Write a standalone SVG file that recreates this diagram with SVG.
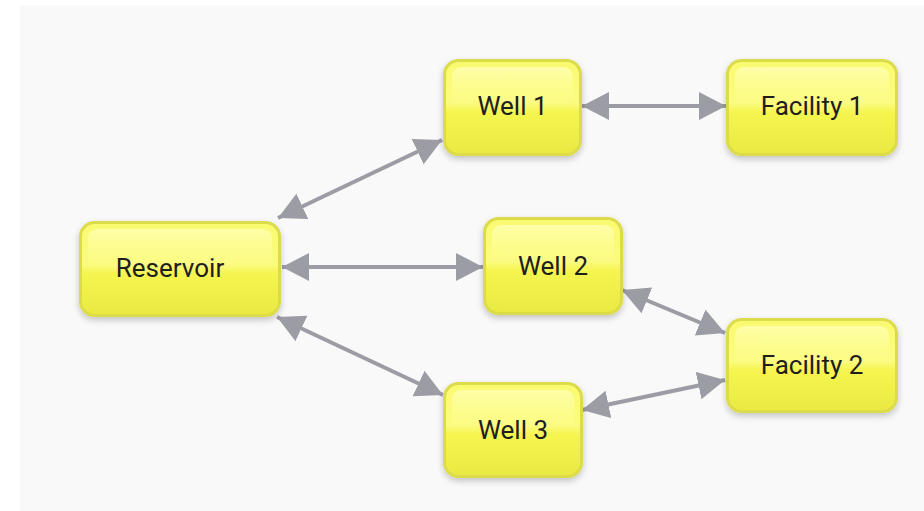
<svg xmlns="http://www.w3.org/2000/svg" width="924" height="511" viewBox="0 0 924 511">
  <defs>
    <linearGradient id="fill" x1="0" y1="0" x2="0" y2="1">
      <stop offset="0" stop-color="#fafa70"/>
      <stop offset="0.45" stop-color="#fbfb80"/>
      <stop offset="0.55" stop-color="#f5f550"/>
      <stop offset="1" stop-color="#e9e942"/>
    </linearGradient>
    <linearGradient id="gloss" x1="0" y1="0" x2="0" y2="1">
      <stop offset="0" stop-color="#ffffb0" stop-opacity="0.9"/>
      <stop offset="1" stop-color="#ffffa0" stop-opacity="0"/>
    </linearGradient>
    <filter id="shadow" x="-20%" y="-20%" width="140%" height="150%">
      <feDropShadow dx="0" dy="3" stdDeviation="3" flood-color="#000" flood-opacity="0.22"/>
    </filter>
    <marker id="arr" markerUnits="userSpaceOnUse" markerWidth="30" markerHeight="30" refX="27" refY="14" orient="auto-start-reverse" viewBox="0 0 30 30">
      <path d="M0,0 L27,14 L0,28 z" fill="#9c9ca4"/>
    </marker>
    <style>
      .node rect.box { fill: url(#fill); stroke: #dcdc4c; stroke-width: 3; filter: url(#shadow); }
      .node rect.hl { fill: url(#gloss); }
      .node text { font-family: Roboto, "Liberation Sans", sans-serif; font-size: 26px; fill: #1e1e1e; text-anchor: middle; dominant-baseline: central; }
      .edge { stroke: #9c9ca4; stroke-width: 4; fill: none; marker-start: url(#arr); marker-end: url(#arr); }
    </style>
  </defs>
  <rect x="20" y="5" width="904" height="506" fill="#f9f9f9"/>

  <g id="connectors">
    <line class="edge" x1="582" y1="106" x2="726" y2="106"/>
    <line class="edge" x1="278" y1="218" x2="442" y2="140"/>
    <line class="edge" x1="282" y1="267" x2="483" y2="267"/>
    <line class="edge" x1="277" y1="317" x2="443" y2="395"/>
    <line class="edge" x1="622" y1="290" x2="725" y2="333"/>
    <line class="edge" x1="582" y1="410" x2="725" y2="380"/>
  </g>

  <g id="reservoir" class="node">
    <rect class="box" x="80.5" y="222.5" width="199" height="93" rx="14"/>
    <rect class="hl" x="88" y="229" width="184" height="40" rx="9"/>
    <text x="170" y="268">Reservoir</text>
  </g>
  <g id="well1" class="node">
    <rect class="box" x="444.5" y="60.5" width="136" height="94" rx="14"/>
    <rect class="hl" x="452" y="67" width="121" height="40" rx="9"/>
    <text x="512.5" y="106">Well 1</text>
  </g>
  <g id="facility1" class="node">
    <rect class="box" x="727.5" y="60.5" width="169" height="94" rx="14"/>
    <rect class="hl" x="735" y="67" width="154" height="40" rx="9"/>
    <text x="812" y="106">Facility 1</text>
  </g>
  <g id="well2" class="node">
    <rect class="box" x="484.5" y="218.5" width="137" height="95" rx="14"/>
    <rect class="hl" x="492" y="225" width="122" height="40" rx="9"/>
    <text x="553" y="266">Well 2</text>
  </g>
  <g id="facility2" class="node">
    <rect class="box" x="727.5" y="319.5" width="169" height="92" rx="14"/>
    <rect class="hl" x="735" y="326" width="154" height="40" rx="9"/>
    <text x="812" y="365">Facility 2</text>
  </g>
  <g id="well3" class="node">
    <rect class="box" x="444.5" y="383.5" width="137" height="93" rx="14"/>
    <rect class="hl" x="452" y="390" width="122" height="40" rx="9"/>
    <text x="513" y="430">Well 3</text>
  </g>
</svg>
